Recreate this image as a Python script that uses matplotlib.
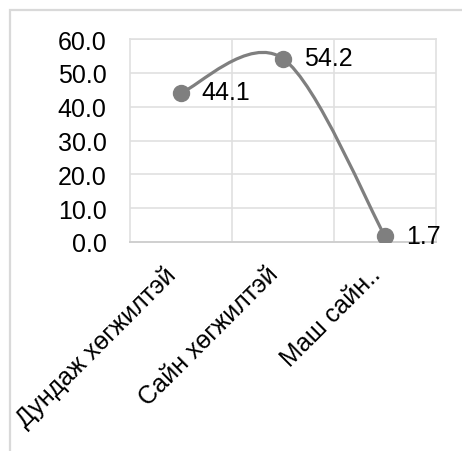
import matplotlib
matplotlib.use("Agg")
import matplotlib.pyplot as plt
from matplotlib.path import Path
from matplotlib.patches import PathPatch, Rectangle
import numpy as np

categories = ["Дундаж хөгжилтэй", "Сайн хөгжилтэй", "Маш сайн.."]
values = [44.1, 54.2, 1.7]
value_labels = ["44.1", "54.2", "1.7"]
yticks = [0, 10, 20, 30, 40, 50, 60]

plt.rcParams['font.family'] = ['Liberation Sans', 'DejaVu Sans']

W, H = 462, 452
fig = plt.figure(figsize=(W / 100, H / 100), dpi=100)
fig.patch.set_facecolor('white')

# outer chart frame
fig.patches.append(Rectangle((10 / W, -0.1), 1.2, 1.1 - 11 / H, transform=fig.transFigure,
                             fill=False, edgecolor='#d9d9d9', linewidth=1.6, zorder=0))

ax = fig.add_axes([130 / W, 1 - 243 / H, 306 / W, 203 / H])
ax.set_xlim(-0.5, len(categories) - 0.5)
ax.set_ylim(0, 60)

grid_c = '#e0e0e0'
for yv in yticks[1:]:
    ax.axhline(yv, color=grid_c, lw=1.2, zorder=1)
for xv in np.arange(0.5, len(categories) - 0.5, 1.0):
    ax.axvline(xv, color=grid_c, lw=1.2, zorder=1)
for s in ['left', 'right', 'top']:
    ax.spines[s].set_color(grid_c)
    ax.spines[s].set_linewidth(1.2)
ax.spines['bottom'].set_color('#cfcfcf')
ax.spines['bottom'].set_linewidth(1.4)

fs = 18
ax.set_yticks(yticks)
ax.set_yticklabels([f"{v:.1f}" for v in yticks], fontsize=fs)
ax.set_xticks(range(len(categories)))
ax.set_xticklabels(categories, fontsize=fs, rotation=45, ha='right', va='top',
                   rotation_mode='default')
ax.tick_params(axis='y', length=0, pad=17)
ax.tick_params(axis='x', length=0, pad=14)

# smoothed line (Excel-style Bezier)
xs = np.arange(len(values), dtype=float)
ys = np.array(values, dtype=float)
pts = np.column_stack([xs, ys])
n = len(pts)
verts = [tuple(pts[0])]
codes = [Path.MOVETO]
for i in range(n - 1):
    p_prev = pts[i - 1] if i > 0 else pts[i]
    p0 = pts[i]
    p1 = pts[i + 1]
    p_next = pts[i + 2] if i + 2 < n else pts[i + 1]
    c1 = p0 + (p1 - p_prev) / 6.0
    c2 = p1 - (p_next - p0) / 6.0
    verts += [tuple(c1), tuple(c2), tuple(p1)]
    codes += [Path.CURVE4] * 3
ax.add_patch(PathPatch(Path(verts, codes), facecolor='none', edgecolor='#7f7f7f',
                       lw=2.3, zorder=3, capstyle='round'))
ax.plot(xs, ys, linestyle='none', marker='o', markersize=11.5, color='#7f7f7f', zorder=4)

for x, y, t in zip(xs, ys, value_labels):
    ax.annotate(t, (x, y), xytext=(15, 0.5), textcoords='offset points',
                ha='left', va='center', fontsize=fs, color='black', zorder=5,
                annotation_clip=False)

fig.savefig('out.png', dpi=100)
